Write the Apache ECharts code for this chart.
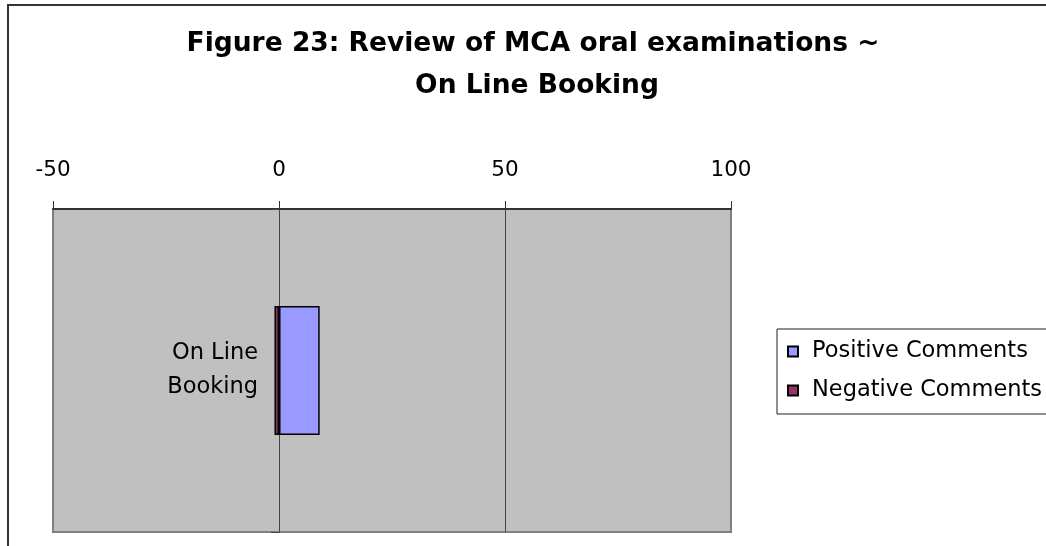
<!DOCTYPE html>
<html><head><meta charset="utf-8">
<script src="https://cdn.jsdelivr.net/npm/echarts@6/dist/echarts.min.js"></script>
<style>html,body{margin:0;padding:0;background:#fff}#c{width:1046px;height:546px}</style>
</head><body><div id="c"></div>
<script>
const categories = ['On Line\nBooking'];
const positiveComments = [9];
const negativeComments = [-1];
const xTicks = [-50, 0, 50, 100];
const titleLines = ['Figure 23: Review of MCA oral examinations ~', 'On Line Booking'];
const seriesNames = ['Positive Comments', 'Negative Comments'];

const FONT = '"DejaVu Sans", "Liberation Sans", Arial, sans-serif';
const chart = echarts.init(document.getElementById('c'), null, {renderer: 'canvas'});
chart.setOption({
  animation: false,
  backgroundColor: '#ffffff',
  graphic: [
    {type: 'rect', shape: {x: 8, y: 5, width: 1100, height: 600}, style: {fill: 'none', stroke: '#333', lineWidth: 2}, z: -10},
    {type: 'text', x: 533, y: 44, style: {text: titleLines[0], font: 'bold 26.5px ' + FONT, fill: '#000', textAlign: 'center', textVerticalAlign: 'middle'}},
    {type: 'text', x: 537, y: 86, style: {text: titleLines[1], font: 'bold 26.5px ' + FONT, fill: '#000', textAlign: 'center', textVerticalAlign: 'middle'}}
  ],
  grid: {left: 53, right: 315, top: 209, bottom: 14, show: true, backgroundColor: '#c0c0c0', borderColor: '#808080', borderWidth: 2, containLabel: false, outerBoundsMode: 'none'},
  legend: {
    orient: 'vertical', left: 777, top: 329,
    data: seriesNames,
    backgroundColor: '#fff', borderColor: '#222', borderWidth: 1,
    padding: [11, 30, 12, 10],
    itemWidth: 10, itemHeight: 10, itemGap: 16,
    icon: 'rect',
    textStyle: {fontFamily: FONT, fontSize: 22.5, color: '#000', lineHeight: 20, padding: [0, 0, 0, 9]}
  },
  xAxis: {
    type: 'value', position: 'top', min: xTicks[0], max: xTicks[xTicks.length - 1], interval: 50,
    axisLine: {show: true, lineStyle: {color: '#333', width: 2}},
    axisTick: {show: true, length: 8, lineStyle: {color: '#333'}},
    axisLabel: {fontFamily: FONT, fontSize: 21.5, color: '#000', margin: 28},
    splitLine: {show: true, lineStyle: {color: ['#808080', '#444', '#444', '#808080'], width: 1}}
  },
  yAxis: {
    type: 'category', data: categories, inverse: true,
    axisLine: {show: true, onZero: true, lineStyle: {color: '#444', width: 1}},
    axisTick: {show: true, length: 8, lineStyle: {color: '#444'}},
    axisLabel: {fontFamily: FONT, fontSize: 22.5, color: '#000', margin: -205, lineHeight: 34, align: 'right'},
    splitLine: {show: false}
  },
  series: [
    {name: seriesNames[0], type: 'bar', data: positiveComments, barWidth: '40%', barGap: '-100%',
     itemStyle: {color: '#9999ff', borderColor: '#000', borderWidth: 1.5}},
    {name: seriesNames[1], type: 'bar', data: negativeComments, barWidth: '40%', barGap: '-100%',
     itemStyle: {color: '#993366', borderColor: '#000', borderWidth: 1.5}}
  ]
});
</script></body></html>
